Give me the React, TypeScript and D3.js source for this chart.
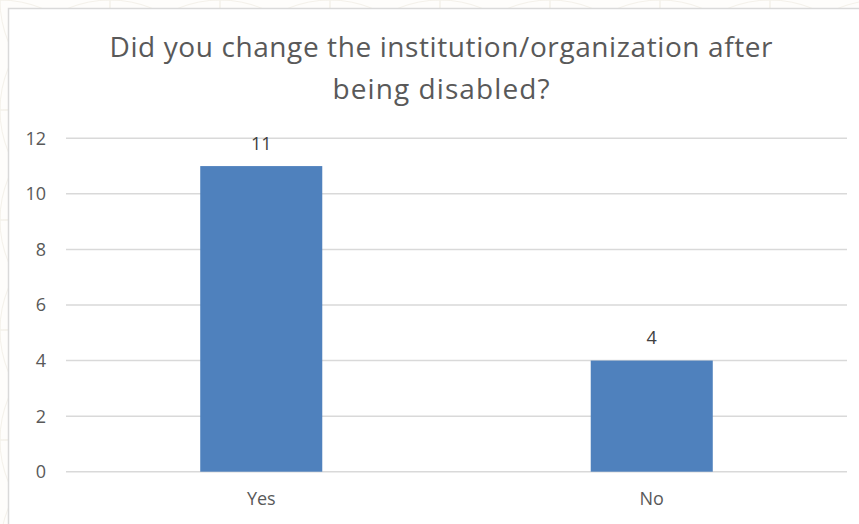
import React from "react";
import * as d3 from "d3";

const categories = ["Yes", "No"];
const values = [11, 4];
const yTicks = [0, 2, 4, 6, 8, 10, 12];
const titleLines = ["Did you change the institution/organization after", "being disabled?"];
const titleWidths = [663, 217];

const W = 859;
const H = 524;

export default function App() {
  const plotLeft = 66;
  const plotRight = 847;
  const plotTop = 138.3;
  const plotBottom = 471.7;

  const x = d3.scaleBand<string>().domain(categories).range([plotLeft, plotRight]).padding(0);
  const y = d3.scaleLinear().domain([0, 12]).range([plotBottom, plotTop]);
  const barW = x.bandwidth() * 0.3125;

  const font = "'Open Sans', 'Noto Sans', sans-serif";
  const textColor = "#595959";

  const patternCircles: { cx: number; cy: number; r: number }[] = [];
  for (let i = -1; i < 9; i++) {
    for (let j = -1; j < 6; j++) {
      patternCircles.push({ cx: i * 110, cy: j * 110, r: 110 });
    }
  }

  return (
    <svg
      width={W}
      height={H}
      style={{ position: "fixed", left: 0, top: 0, display: "block" }}
      viewBox={`0 0 ${W} ${H}`}
    >
      <rect x={0} y={0} width={W} height={H} fill="#fefdfb" />
      <g fill="none" stroke="#f4f1ea" strokeWidth={1}>
        {patternCircles.map((c, i) => (
          <circle key={i} cx={c.cx} cy={c.cy} r={c.r} />
        ))}
      </g>
      <rect x={8.5} y={8.5} width={W + 10} height={H + 10} fill="#ffffff" stroke="#d9d9d9" strokeWidth={1.5} />

      {titleLines.map((t, i) => (
        <text
          key={i}
          x={441}
          y={57 + i * 42}
          textAnchor="middle"
          fontFamily={font}
          fontSize={28}
          fill={textColor}
          textLength={titleWidths[i]}
          lengthAdjust="spacing"
        >
          {t}
        </text>
      ))}

      <g>
        {yTicks.map((t) => (
          <g key={t}>
            <line x1={plotLeft} x2={plotRight} y1={y(t)} y2={y(t)} stroke="#d9d9d9" strokeWidth={1.5} />
            <text
              x={46}
              y={y(t)}
              dy="0.36em"
              textAnchor="end"
              fontFamily={font}
              fontSize={18}
              fill={textColor}
            >
              {t}
            </text>
          </g>
        ))}
      </g>

      <g>
        {categories.map((c, i) => {
          const cx = (x(c) as number) + x.bandwidth() / 2;
          return (
            <g key={c}>
              <rect
                x={cx - barW / 2}
                y={y(values[i])}
                width={barW}
                height={y(0) - y(values[i])}
                fill="#4f81bd"
              />
              <text
                x={cx}
                y={y(values[i]) - 23}
                dy="0.36em"
                textAnchor="middle"
                fontFamily={font}
                fontSize={18}
                fill="#404040"
              >
                {values[i]}
              </text>
              <text
                x={cx}
                y={499}
                dy="0.36em"
                textAnchor="middle"
                fontFamily={font}
                fontSize={18}
                fill={textColor}
              >
                {c}
              </text>
            </g>
          );
        })}
      </g>
    </svg>
  );
}
